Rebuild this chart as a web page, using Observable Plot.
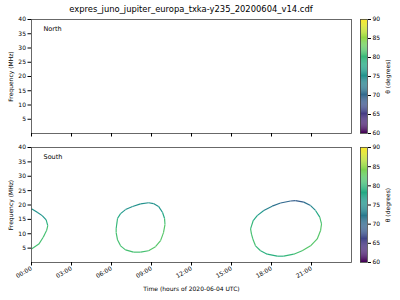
<!DOCTYPE html>
<html><head><meta charset="utf-8">
<script src="https://cdn.jsdelivr.net/npm/d3@7"></script>
<script src="https://cdn.jsdelivr.net/npm/@observablehq/plot@0.6"></script>
<style>
body{margin:0;background:#fff;}
#c{position:relative;width:400px;height:300px;font-family:"DejaVu Sans",sans-serif;overflow:hidden;}
#c svg{position:absolute;overflow:visible;}
#title{position:absolute;left:31px;width:320px;top:4px;text-align:center;font-size:8.4px;color:#000;white-space:nowrap;}
</style></head><body><div id="c"><div id="title">expres_juno_jupiter_europa_txka-y235_20200604_v14.cdf</div></div>
<script>
// ---- data ----
const hemispheres = ["North", "South"];
const yTicks = [5, 10, 15, 20, 25, 30, 35, 40];
const xTickHours = [0, 3, 6, 9, 12, 15, 18, 21];
const thetaTicks = [60, 65, 70, 75, 80, 85, 90];

// South arcs: hour of day, frequency (MHz), theta (degrees)
const arc1Hour  = [0.00, 0.43, 0.80, 1.10, 1.22, 1.13, 0.88, 0.55, 0.00];
const arc1Freq  = [18.7, 17.5, 16.3, 14.8, 12.8, 11.1, 8.8, 6.4, 4.7];
const arc1Theta = [75, 75, 76, 79, 81, 81, 81, 81, 81];

const arc2Hour  = [6.35, 6.45, 6.68, 7.05, 7.58, 8.18, 8.78, 9.15, 9.53, 9.83, 9.98, 10.01, 9.90, 9.68, 9.30, 8.78, 8.18, 7.65, 7.05, 6.68, 6.45, 6.35];
const arc2Freq  = [11.8, 15.3, 17.0, 18.4, 19.5, 20.4, 20.8, 20.5, 19.5, 17.4, 15.3, 13.2, 10.4, 7.6, 5.5, 4.1, 3.6, 3.6, 4.4, 5.8, 7.9, 10.4];
const arc2Theta = [80, 78, 76, 75, 75, 75, 75, 75, 76, 78, 81, 82, 82, 82, 82, 81, 81, 81, 81, 81, 81, 81];

const arc3Hour  = [16.43, 16.63, 16.93, 17.42, 18.05, 18.68, 19.43, 19.80, 20.42, 20.93, 21.30, 21.62, 21.75, 21.68, 21.43, 20.93, 20.30, 19.67, 18.92, 18.43, 17.68, 17.18, 16.80, 16.60, 16.50];
const arc3Freq  = [11.7, 14.6, 16.3, 18.1, 19.6, 20.7, 21.4, 21.5, 21.0, 19.8, 18.1, 15.8, 13.4, 11.1, 8.2, 5.8, 4.1, 2.9, 2.2, 2.2, 2.9, 4.1, 5.8, 8.2, 9.9];
const arc3Theta = [80, 78, 76, 73, 71, 70, 69, 69, 71, 74, 78, 81, 82, 82, 82, 82, 81, 80, 79, 79, 79, 80, 81, 81, 81];

// ---- build segments ----
function segments(h, f, t, closed) {
  const out = [];
  const n = h.length;
  const m = closed ? n : n - 1;
  for (let i = 0; i < m; i++) {
    const j = (i + 1) % n;
    out.push({x1: h[i], y1: f[i], x2: h[j], y2: f[j], theta: t[i]});
  }
  return out;
}
const southSegs = [
  ...segments(arc1Hour, arc1Freq, arc1Theta, false),
  ...segments(arc2Hour, arc2Freq, arc2Theta, true),
  ...segments(arc3Hour, arc3Freq, arc3Theta, true)
];
const northSegs = [];

const colorScale = {type: "linear", scheme: "viridis", domain: [60, 90]};
const fmt = h => String(h).padStart(2, "0") + ":00";
const baseStyle = {fontFamily: "DejaVu Sans, sans-serif", fontSize: "6px", color: "#000", background: "transparent", overflow: "visible"};

function panel(name, data, showX, height, mt, mb) {
  return Plot.plot({
    width: 360, height, marginLeft: 31, marginRight: 9, marginTop: mt, marginBottom: mb,
    style: baseStyle,
    x: {domain: [0, 24]},
    y: {domain: [0, 40]},
    color: colorScale,
    marks: [
      Plot.link(data, {x1: "x1", y1: "y1", x2: "x2", y2: "y2", stroke: "theta", strokeWidth: 1.15}),
      Plot.frame({stroke: "#444", strokeWidth: 0.8}),
      Plot.axisY({ticks: yTicks, tickSize: 3.5, tickPadding: 2, label: "Frequency (MHz)", labelAnchor: "center", labelArrow: "none", labelOffset: 23, fontSize: 6}),
      Plot.axisX({ticks: xTickHours, tickSize: 3.5, tickPadding: 2, tickFormat: showX ? fmt : () => "", tickRotate: showX ? -30 : 0,
        label: showX ? "Time (hours of 2020-06-04 UTC)" : null, labelAnchor: "center", labelArrow: "none", labelOffset: 28, fontSize: 6}),
      Plot.text([name], {frameAnchor: "top-left", dx: 12, dy: 7, text: d => d, fontSize: 6.5})
    ]
  });
}

const colorSteps = d3.range(60, 90, 0.25);
function colorbar(height, mt, mb) {
  return Plot.plot({
    width: 50, height, marginLeft: 10, marginRight: 33, marginTop: mt, marginBottom: mb,
    style: baseStyle,
    x: {domain: [0, 1], axis: null},
    y: {domain: [60, 90]},
    color: colorScale,
    marks: [
      Plot.rect(colorSteps, {x1: 0, x2: 1, y1: d => d, y2: d => d + 0.26, fill: d => d + 0.125}),
      Plot.frame({stroke: "#444", strokeWidth: 0.8}),
      Plot.axisY({anchor: "right", ticks: thetaTicks, tickSize: 3, tickPadding: 2, label: "θ (degrees)", labelAnchor: "center", labelArrow: "none", labelOffset: 22, fontSize: 6})
    ]
  });
}

const c = document.getElementById("c");
function place(el, left, top) { el.style.left = left + "px"; el.style.top = top + "px"; c.appendChild(el); }
place(panel(hemispheres[0], northSegs, false, 140, 19, 7), 0, 0);
place(colorbar(140, 19, 7), 350, 0);
place(panel(hemispheres[1], southSegs, true, 160, 7, 38), 0, 140);
place(colorbar(160, 7, 38), 350, 140);
</script></body></html>
